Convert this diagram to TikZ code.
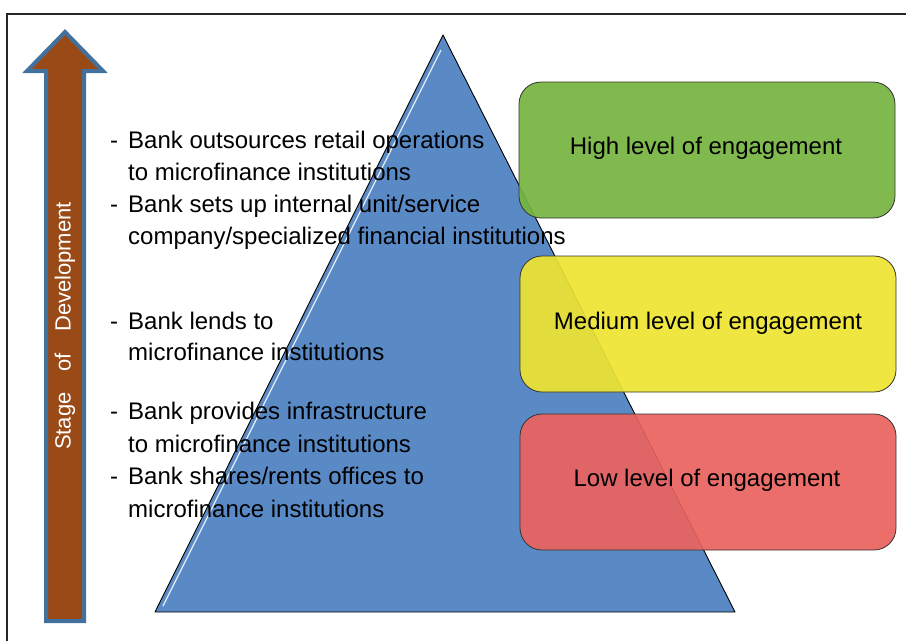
\documentclass[tikz,border=0pt]{standalone}
\usepackage{fontspec}
\setmainfont{Liberation Sans}
\begin{document}
\begin{tikzpicture}[x=1pt,y=-1pt,
  frameline/.style={draw=black!85,line width=1.5pt},
  levelbox/.style={draw=black!80,line width=0.8pt,rounded corners=22pt,fill opacity=0.92},
  boxtext/.style={font=\fontsize{24}{28}\selectfont,text=black},
  listtext/.style={anchor=north west,align=left,inner sep=0pt}]
\definecolor{arrowfill}{HTML}{9A4A17}
\definecolor{arrowedge}{HTML}{41719C}
\definecolor{trifill}{HTML}{5A8AC6}
\definecolor{highgreen}{HTML}{76B53F}
\definecolor{medyellow}{HTML}{EFE432}
\definecolor{lowred}{HTML}{EB625E}
\useasboundingbox (0,0) rectangle (906,641);
\fill[white] (0,0) rectangle (906,641);
% frame
\draw[frameline] (906,14) -- (7,14) -- (7,641);
% arrow
\draw[fill=arrowfill,draw=arrowedge,line width=4pt,line join=miter]
  (65,32) -- (103,71) -- (84,71) -- (84,621) -- (46,621) -- (46,71) -- (27,71) -- cycle;
\node[rotate=90,text=white,font=\fontsize{22}{26}\selectfont] (stage) at (65,326)
  {Stage\hspace{15pt} of\hspace{15pt} Development};
% pyramid
\draw[fill=trifill,draw=black,line width=0.9pt,line join=round] (443,35) -- (735,612) -- (155,612) -- cycle;
\draw[white,line width=1.3pt,opacity=0.85] (441,50) -- (163,606);
% boxes
\node[levelbox,fill=highgreen,minimum width=376pt,minimum height=136pt] (high) at (707,150) {};
\node[levelbox,fill=medyellow,minimum width=376pt,minimum height=136pt] (med) at (708,324) {};
\node[levelbox,fill=lowred,minimum width=376pt,minimum height=136pt] (low) at (708,482) {};
\node[boxtext] (hightxt) at (706,148) {High level of engagement};
\node[boxtext] (medtxt) at (708,323) {Medium level of engagement};
\node[boxtext] (lowtxt) at (707,480) {Low level of engagement};
% lists
\node[listtext,font=\fontsize{24}{32}\selectfont] (list1) at (110,131) {%
\makebox[18pt][l]{-}Bank outsources retail operations\\
\hspace*{18pt}to microfinance institutions\\
\makebox[18pt][l]{-}Bank sets up internal unit/service\\
\hspace*{18pt}company/specialized financial institutions};
\node[listtext,font=\fontsize{24}{31}\selectfont] (list2) at (110,312) {%
\makebox[18pt][l]{-}Bank lends to\\
\hspace*{18pt}microfinance institutions};
\node[listtext,font=\fontsize{24}{32.7}\selectfont] (list3) at (110,402) {%
\makebox[18pt][l]{-}Bank provides infrastructure\\
\hspace*{18pt}to microfinance institutions\\
\makebox[18pt][l]{-}Bank shares/rents offices to\\
\hspace*{18pt}microfinance institutions};
\end{tikzpicture}
\end{document}
